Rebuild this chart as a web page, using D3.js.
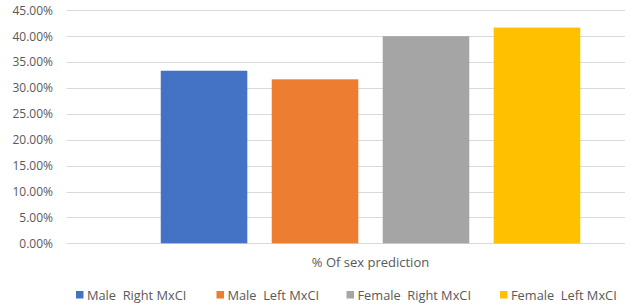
<!DOCTYPE html>
<html>
<head>
<meta charset="utf-8">
<script src="https://cdn.jsdelivr.net/npm/d3@7"></script>
<style>
  body { margin: 0; background: #fff; }
  text { font-family: "Open Sans", "Noto Sans", sans-serif; fill: #595959; }
</style>
</head>
<body>
<svg id="chart" width="625" height="306"></svg>
<script>
const categories = ["% Of sex prediction"];
const seriesNames = ["Male  Right MxCI", "Male  Left MxCI", "Female  Right MxCI", "Female  Left MxCI"];
const seriesValues = [0.3333, 0.3167, 0.40, 0.4167];
const seriesColors = ["#4472C4", "#ED7D31", "#A5A5A5", "#FFC000"];
const yTicks = [0, 0.05, 0.10, 0.15, 0.20, 0.25, 0.30, 0.35, 0.40, 0.45];

const svg = d3.select("#chart");
const plotLeft = 67, plotRight = 674, plotTop = 10.3, plotBottom = 243.3;

const y = d3.scaleLinear().domain([0, 0.45]).range([plotBottom, plotTop]);

// outer category band, then one band per series inside it
const x0 = d3.scaleBand().domain(categories).range([plotLeft, plotRight]).paddingInner(0).paddingOuter(0.2235);
const x1 = d3.scaleBand().domain(seriesNames).range([0, x0.bandwidth()]).paddingInner(0.22).paddingOuter(0);

// grid
svg.append("g")
  .selectAll("line")
  .data(yTicks)
  .enter()
  .append("line")
  .attr("x1", plotLeft)
  .attr("x2", 625)
  .attr("y1", d => Math.round(y(d)) + 0.5)
  .attr("y2", d => Math.round(y(d)) + 0.5)
  .attr("stroke", "#D9D9D9")
  .attr("stroke-width", 1);

// y axis labels
const yAxis = d3.axisLeft(y).tickValues(yTicks).tickFormat(d => (d * 100).toFixed(2) + "%").tickSize(0).tickPadding(0);
const ga = svg.append("g").attr("transform", "translate(53,0)").call(yAxis);
ga.select(".domain").remove();
ga.selectAll("text").style("font-size", "12px").attr("fill", "#595959").attr("font-family", "\"Open Sans\", sans-serif");

// bars
const g = svg.append("g").attr("transform", "translate(" + x0(categories[0]) + ",0)");
g.selectAll("rect")
  .data(seriesValues)
  .enter()
  .append("rect")
  .attr("x", (d, i) => x1(seriesNames[i]))
  .attr("y", d => y(d))
  .attr("width", x1.bandwidth())
  .attr("height", d => plotBottom - y(d))
  .attr("fill", (d, i) => seriesColors[i]);

// category label
svg.append("text")
  .attr("x", x0(categories[0]) + x0.bandwidth() / 2)
  .attr("y", 267)
  .attr("text-anchor", "middle")
  .style("font-size", "13px")
  .text(categories[0]);

// legend
const legendX = [76, 216.5, 346.5, 500];
const lg = svg.append("g");
seriesNames.forEach((name, i) => {
  lg.append("rect")
    .attr("x", legendX[i])
    .attr("y", 291)
    .attr("width", 7.5)
    .attr("height", 7.5)
    .attr("fill", seriesColors[i]);
  lg.append("text")
    .attr("x", legendX[i] + 11)
    .attr("y", 299.5)
    .style("font-size", "12.8px")
    .style("white-space", "pre")
    .text(name);
});
</script>
</body>
</html>
